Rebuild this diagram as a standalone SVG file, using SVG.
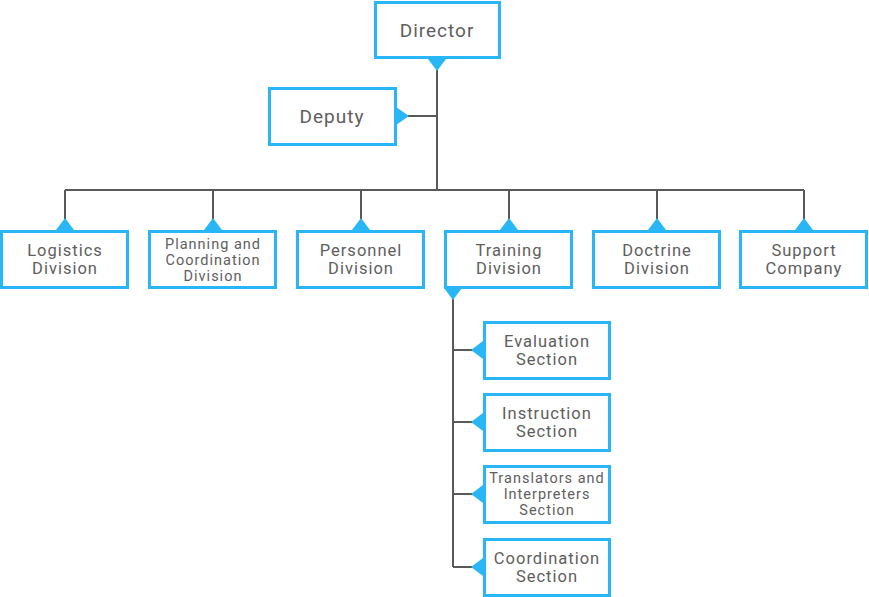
<svg xmlns="http://www.w3.org/2000/svg" width="869" height="597" viewBox="0 0 869 597">
<style>
.box{fill:#fff;stroke:#29b6f6;stroke-width:3}
.tri{fill:#29b6f6}
.ln{fill:none;stroke:#595959;stroke-width:2}
text{font-family:Roboto,"Liberation Sans",sans-serif;fill:#5e5e5e;text-anchor:middle;letter-spacing:1px}
.t20{font-size:19px}
.t17{font-size:16.5px}
.t14{font-size:14.5px}
</style>
<rect width="869" height="597" fill="#fff"/>
<g id="connectors">
<path class="ln" d="M437,70 V190 M408,116 H437 M65,190 H804 M65,190 V219 M213,190 V219 M361,190 V219 M509,190 V219 M657,190 V219 M804,190 V219 M453,299 V567 M453,350 H472 M453,422 H472 M453,494 H472 M453,567 H472"/>
</g>
<g id="director"><rect class="box" x="375.5" y="2.5" width="124" height="55"/><polygon class="tri" points="428,59 446,59 437,71"/><text class="t20" x="437" y="37">Director</text></g>
<g id="deputy"><rect class="box" x="269.5" y="88.5" width="126" height="56"/><polygon class="tri" points="396,107 396,125 409,116"/><text class="t20" x="332" y="123">Deputy</text></g>
<g id="logistics"><rect class="box" x="1.5" y="231.5" width="126" height="56"/><polygon class="tri" points="56,230 74,230 65,218"/><text class="t17" x="65" y="256">Logistics</text><text class="t17" x="65" y="274">Division</text></g>
<g id="planning"><rect class="box" x="149.5" y="231.5" width="126" height="56"/><polygon class="tri" points="204,230 222,230 213,218"/><text class="t14" x="213" y="249">Planning and</text><text class="t14" x="213" y="265">Coordination</text><text class="t14" x="213" y="281">Division</text></g>
<g id="personnel"><rect class="box" x="297.5" y="231.5" width="126" height="56"/><polygon class="tri" points="352,230 370,230 361,218"/><text class="t17" x="361" y="256">Personnel</text><text class="t17" x="361" y="274">Division</text></g>
<g id="training"><rect class="box" x="445.5" y="231.5" width="126" height="56"/><polygon class="tri" points="500,230 518,230 509,218"/><polygon class="tri" points="444,288 462,288 453,300"/><text class="t17" x="509" y="256">Training</text><text class="t17" x="509" y="274">Division</text></g>
<g id="doctrine"><rect class="box" x="593.5" y="231.5" width="126" height="56"/><polygon class="tri" points="648,230 666,230 657,218"/><text class="t17" x="657" y="256">Doctrine</text><text class="t17" x="657" y="274">Division</text></g>
<g id="support"><rect class="box" x="740.5" y="231.5" width="126" height="56"/><polygon class="tri" points="795,230 813,230 804,218"/><text class="t17" x="804" y="256">Support</text><text class="t17" x="804" y="274">Company</text></g>
<g id="evaluation"><rect class="box" x="484.5" y="322.5" width="125" height="56"/><polygon class="tri" points="483,341 483,359 471,350"/><text class="t17" x="547" y="347">Evaluation</text><text class="t17" x="547" y="365">Section</text></g>
<g id="instruction"><rect class="box" x="484.5" y="394.5" width="125" height="56"/><polygon class="tri" points="483,413 483,431 471,422"/><text class="t17" x="547" y="419">Instruction</text><text class="t17" x="547" y="437">Section</text></g>
<g id="translators"><rect class="box" x="484.5" y="466.5" width="125" height="56"/><polygon class="tri" points="483,485 483,503 471,494"/><text class="t14" x="547" y="483">Translators and</text><text class="t14" x="547" y="499">Interpreters</text><text class="t14" x="547" y="515">Section</text></g>
<g id="coordination"><rect class="box" x="484.5" y="539.5" width="125" height="56"/><polygon class="tri" points="483,558 483,576 471,567"/><text class="t17" x="547" y="564">Coordination</text><text class="t17" x="547" y="582">Section</text></g>
</svg>
